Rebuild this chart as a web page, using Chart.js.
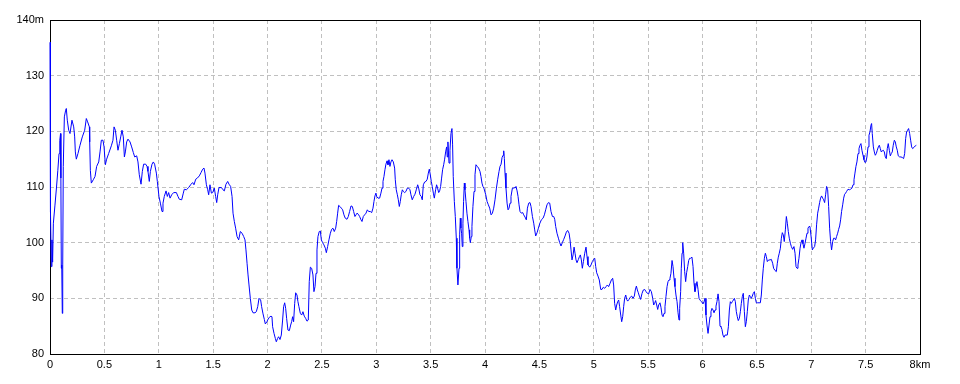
<!DOCTYPE html>
<html>
<head>
<meta charset="utf-8">
<script src="https://cdn.jsdelivr.net/npm/chart.js@4"></script>
<style>
  html, body { margin: 0; padding: 0; background: #fff; }
  #wrap { width: 960px; height: 384px; }
</style>
</head>
<body>
<div id="wrap"><canvas id="profile"></canvas></div>
<script>
// distance along the route (km) and elevation (m)
const distKm = [
  0, 0.002, 0.004, 0.007, 0.012, 0.018, 0.024, 0.031, 0.045, 0.060, 0.072, 0.083, 0.090, 0.097, 0.100, 0.104, 0.108, 0.113, 0.117, 0.122,
  0.132, 0.144, 0.150, 0.159, 0.172, 0.184, 0.202, 0.218, 0.227, 0.233, 0.242, 0.257, 0.276, 0.297, 0.319, 0.334, 0.346, 0.362, 0.365, 0.371,
  0.380, 0.398, 0.414, 0.429, 0.448, 0.460, 0.472, 0.487, 0.497, 0.509, 0.521, 0.539, 0.564, 0.579, 0.589, 0.601, 0.613, 0.625, 0.638, 0.650,
  0.662, 0.674, 0.684, 0.693, 0.705, 0.717, 0.736, 0.751, 0.766, 0.779, 0.797, 0.809, 0.821, 0.837, 0.849, 0.861, 0.880, 0.892, 0.901, 0.913,
  0.923, 0.938, 0.950, 0.962, 0.978, 0.987, 1.002,
  1.015, 1.030, 1.039, 1.051, 1.067, 1.079, 1.091, 1.104, 1.119, 1.137, 1.162, 1.177, 1.189, 1.211, 1.226, 1.235, 1.254, 1.275, 1.297, 1.312,
  1.324, 1.340, 1.355, 1.373, 1.389, 1.404, 1.416, 1.425, 1.438, 1.450, 1.459, 1.471, 1.484, 1.496, 1.511, 1.523, 1.533, 1.542, 1.554, 1.576,
  1.591, 1.603, 1.618, 1.634, 1.646, 1.661, 1.674, 1.683, 1.695, 1.707, 1.720, 1.735, 1.750, 1.766, 1.781, 1.793, 1.802, 1.812, 1.821, 1.830,
  1.842, 1.855, 1.867, 1.885, 1.897, 1.910, 1.922, 1.937, 1.946, 1.959, 1.971, 1.980, 1.995,
  2.001, 2.017, 2.032, 2.041, 2.047, 2.060, 2.072, 2.081, 2.093, 2.102, 2.115, 2.127, 2.139, 2.148, 2.158, 2.167, 2.176, 2.188, 2.201, 2.213,
  2.222, 2.231, 2.240, 2.250, 2.259, 2.271, 2.280, 2.289, 2.302, 2.314, 2.326, 2.338, 2.351, 2.363, 2.375, 2.384, 2.394, 2.406, 2.418, 2.427,
  2.437, 2.446, 2.455, 2.464, 2.476, 2.486, 2.495, 2.507, 2.519, 2.532, 2.541, 2.553, 2.565, 2.578, 2.590, 2.602, 2.614, 2.627, 2.636, 2.645,
  2.654, 2.666, 2.679, 2.691, 2.703, 2.715, 2.731, 2.743, 2.755, 2.768, 2.780, 2.792, 2.804, 2.814, 2.823, 2.835, 2.847, 2.860, 2.869, 2.881,
  2.893, 2.906, 2.918, 2.930, 2.945, 2.958, 2.970, 2.979, 2.988, 2.997,
  3.004, 3.016, 3.031, 3.043, 3.053, 3.062, 3.071, 3.080, 3.089, 3.099, 3.108, 3.117, 3.126, 3.135, 3.145, 3.157, 3.169, 3.175, 3.184, 3.194,
  3.203, 3.212, 3.221, 3.230, 3.240, 3.249, 3.261, 3.273, 3.286, 3.298, 3.310, 3.319, 3.331, 3.344, 3.356, 3.368, 3.381, 3.390, 3.402, 3.414,
  3.423, 3.433, 3.445, 3.457, 3.469, 3.479, 3.488, 3.497, 3.506, 3.515, 3.525, 3.534, 3.546, 3.555, 3.564, 3.574, 3.583, 3.592, 3.601, 3.610,
  3.620, 3.629, 3.638, 3.647, 3.653, 3.659, 3.669, 3.678, 3.687, 3.696, 3.702, 3.708, 3.718, 3.727, 3.736, 3.742, 3.751, 3.761, 3.767, 3.773,
  3.779, 3.785, 3.791, 3.797, 3.803, 3.810, 3.816, 3.825, 3.834, 3.843, 3.853, 3.859, 3.865, 3.874, 3.880, 3.889, 3.899, 3.908, 3.917, 3.929,
  3.941, 3.954, 3.963, 3.972, 3.981, 3.990,
  4.007, 4.019, 4.031, 4.043, 4.056, 4.068, 4.080, 4.092, 4.105, 4.117, 4.129, 4.138, 4.148, 4.157, 4.166, 4.172, 4.178, 4.184, 4.193, 4.203,
  4.212, 4.221, 4.230, 4.239, 4.252, 4.264, 4.276, 4.285, 4.295, 4.304, 4.313, 4.322, 4.334, 4.347, 4.356, 4.368, 4.380, 4.390, 4.402, 4.414,
  4.423, 4.436, 4.448, 4.457, 4.466, 4.479, 4.491, 4.503, 4.518, 4.534, 4.546, 4.558, 4.570, 4.583, 4.595, 4.607, 4.620, 4.632, 4.641, 4.650,
  4.662, 4.675, 4.687, 4.699, 4.711, 4.724, 4.736, 4.748, 4.760, 4.773, 4.782, 4.791, 4.800, 4.810, 4.819, 4.828, 4.837, 4.846, 4.859, 4.868,
  4.877, 4.886, 4.895, 4.905, 4.917, 4.929, 4.938, 4.947, 4.963, 4.975, 4.987, 4.999,
  5.009, 5.018, 5.027, 5.039, 5.051, 5.064, 5.076, 5.088, 5.100, 5.113, 5.125, 5.137, 5.150, 5.162, 5.174, 5.183, 5.192, 5.202, 5.211, 5.220,
  5.229, 5.238, 5.248, 5.257, 5.266, 5.275, 5.284, 5.294, 5.303, 5.312, 5.324, 5.336, 5.349, 5.361, 5.373, 5.382, 5.392, 5.401, 5.410, 5.419,
  5.431, 5.444, 5.456, 5.468, 5.481, 5.493, 5.505, 5.517, 5.530, 5.542, 5.551, 5.560, 5.569, 5.579, 5.588, 5.597, 5.609, 5.618, 5.628, 5.637,
  5.646, 5.655, 5.664, 5.674, 5.683, 5.692, 5.701, 5.710, 5.720, 5.729, 5.738, 5.747, 5.756, 5.766, 5.775, 5.784, 5.790, 5.799, 5.805, 5.812,
  5.818, 5.827, 5.836, 5.845, 5.854, 5.864, 5.873, 5.882, 5.891, 5.903, 5.913, 5.922, 5.931, 5.940, 5.949, 5.959, 5.968, 5.980, 5.992, 6.005,
  6.014, 6.023, 6.032, 6.041, 6.051, 6.060, 6.069, 6.078, 6.087, 6.097, 6.106, 6.115, 6.124, 6.133, 6.143, 6.152, 6.161, 6.170, 6.179, 6.188,
  6.198, 6.207, 6.216, 6.228, 6.238, 6.247, 6.256, 6.265, 6.274, 6.284, 6.293, 6.302, 6.311, 6.320, 6.329, 6.339, 6.348, 6.357, 6.366, 6.375,
  6.385, 6.394, 6.403, 6.412, 6.421, 6.431, 6.440, 6.449, 6.458, 6.467, 6.477, 6.486, 6.495, 6.507, 6.520, 6.532, 6.541, 6.550, 6.559, 6.569,
  6.578, 6.587, 6.596, 6.608, 6.621, 6.633, 6.645, 6.654, 6.667, 6.679, 6.688, 6.697, 6.706, 6.716, 6.725, 6.734, 6.743, 6.752, 6.762, 6.771,
  6.780, 6.789, 6.798, 6.808, 6.817, 6.829, 6.841, 6.851, 6.860, 6.869, 6.878, 6.887, 6.897, 6.906, 6.915, 6.924, 6.933, 6.943, 6.952, 6.961,
  6.970, 6.979, 6.988, 6.998,
  7.010, 7.019, 7.031, 7.040, 7.049, 7.059, 7.068, 7.077, 7.086, 7.095, 7.105, 7.114, 7.123, 7.132, 7.141, 7.151, 7.160, 7.169, 7.178, 7.187,
  7.197, 7.206, 7.215, 7.224, 7.233, 7.243, 7.252, 7.261, 7.270, 7.279, 7.289, 7.298, 7.307, 7.316, 7.325, 7.338, 7.350, 7.362, 7.374, 7.384,
  7.393, 7.402, 7.411, 7.420, 7.430, 7.439, 7.448, 7.457, 7.466, 7.476, 7.485, 7.494, 7.503, 7.512, 7.522, 7.531, 7.540, 7.549, 7.555, 7.561,
  7.571, 7.580, 7.589, 7.598, 7.607, 7.617, 7.626, 7.635, 7.644, 7.653, 7.663, 7.672, 7.681, 7.690, 7.699, 7.708, 7.718, 7.727, 7.736, 7.745,
  7.754, 7.764, 7.773, 7.782, 7.791, 7.800, 7.813, 7.825, 7.837, 7.849, 7.859, 7.868, 7.877, 7.886, 7.895, 7.905, 7.914, 7.923, 7.932, 7.944,
  7.957, 7.966
];
const elevM = [
  136, 105.5, 125.5, 105.5, 95.7, 100.5, 96.5, 103.5, 106.6, 110, 113, 116, 118.4, 119.6, 111.6, 95.4, 96, 87.3, 96, 113.7,
  122.6, 123.8, 124.1, 122, 120.2, 119.6, 122, 120.8, 119, 116.3, 115, 116, 117.5, 119, 120.2, 122.3, 121.7, 120.8, 118.1, 113,
  110.7, 111.3, 111.9, 113.7, 114.5, 116.3, 118.4, 118.4, 117.2, 114, 115, 116, 117.4, 118.4, 120.8, 120.2, 118.4, 116.6, 117.8, 119,
  120.2, 119, 115.4, 116.3, 118.1, 118.6, 118.1, 117.2, 116.2, 115.4, 115.6, 114.5, 112.2, 110.5, 112.8, 114.1, 114.1, 113.7, 112.8, 111,
  112.8, 114.1, 114.5, 114.1, 112.5, 111, 108.3,
  107.1, 105.6, 107.1, 108.3, 109.3, 108.3, 109, 108, 108.6, 109, 109, 108.3, 107.8, 107.7, 108.9, 109.6, 109.5, 109.9, 110.5, 110.8,
  110.4, 111.4, 111.6, 112, 112.6, 113.2, 113.4, 112.5, 110.4, 109.5, 108.6, 110.4, 108.9, 109, 109.8, 108.3, 107.2, 108.6, 109.9, 109.9,
  109.5, 109.3, 110.5, 111, 110.5, 110.1, 108.3, 105.3, 103.8, 102.6, 101.1, 100.5, 102, 101.7, 101.1, 100.5, 98.7, 96.3, 94.2, 92.4,
  90, 87.9, 87.4, 87.4, 87.6, 88.5, 90, 89.7, 88.5, 87.2, 86.2, 85.4, 85.8,
  86.1, 86.6, 86.8, 86.7, 84.9, 83.7, 82.8, 82.2, 82.8, 83.1, 82.6, 83.4, 86.1, 88.5, 89.2, 88.2, 86.4, 84.3, 84.2, 85.2,
  85.8, 86.7, 85.8, 89.1, 91, 90.6, 89.4, 88.5, 87.3, 87, 87.6, 86.8, 86.4, 85.9, 86.1, 93, 95.6, 95.4, 94.2, 91.2,
  92.1, 94.5, 98.7, 101.1, 102, 102.1, 100.5, 100, 99.6, 99, 98.2, 99.3, 100.5, 101.7, 102.4, 102.6, 102, 102.6, 103.8, 105.3,
  106.7, 106.5, 106.2, 105.9, 105, 104.4, 104.2, 104.7, 105.6, 106.6, 106.5, 105.6, 104.7, 105, 105.3, 105.1, 104.7, 104.1, 103.8, 104.7,
  105, 105.3, 105.9, 105.6, 105.6, 105.4, 106.2, 107.4, 108.4, 108.9,
  108.3, 108, 108, 108.9, 109.8, 111, 111.9, 113.1, 114.1, 114.7, 114, 114.9, 113.7, 114.5, 114.9, 114.5, 113.4, 111.3, 109.5, 108.6,
  107.7, 106.5, 107.4, 108.6, 109.5, 109.2, 109, 109.2, 109.8, 109.8, 109.5, 108.6, 107.7, 108.3, 108.7, 109.5, 110.4, 109.8, 108.6, 108.3,
  107.7, 110.4, 110.9, 111, 111.4, 112.5, 113.2, 112.2, 111, 110.1, 108.9, 108, 109.5, 110.4, 109.8, 109, 109.3, 110.1, 111.6, 113.1,
  114, 115, 116.3, 117.2, 115.4, 118.1, 114.3, 116.6, 119.6, 120.5, 117.7, 111.9, 107.4, 104.7, 100.8, 95.4, 92.4, 95.4, 101.4, 104.4,
  102.6, 101.7, 99.3, 103.5, 107.4, 110.7, 109.5, 107.4, 105.3, 103.8, 102.3, 100.8, 100, 101.1, 102.9, 106.5, 109.2, 112.2, 114, 113.7,
  113.4, 112.8, 111.9, 110.7, 110.1, 109.8,
  108.6, 107.4, 106.8, 106.2, 105, 105.3, 106.2, 107.7, 109.8, 111.4, 112.8, 113.7, 114.1, 115.3, 115.7, 116.5, 115.1, 112.5, 109.8, 107.1,
  105.9, 106.2, 107.1, 108.3, 109.8, 109.8, 109.9, 110.1, 109.3, 108.3, 106.8, 105.6, 105.3, 105.4, 105, 104.6, 104.1, 106.2, 107.1, 107.2,
  106.5, 104.7, 103.5, 102.3, 101.2, 101.8, 102.6, 103.4, 104.1, 104.4, 105, 105.9, 106.8, 107.2, 107.1, 105.6, 104.7, 104.7, 104.2, 102.9,
  101.7, 100.8, 100, 99.4, 100, 100.6, 101.2, 101.9, 102.2, 101.7, 100.5, 98.7, 96.9, 97.8, 99.2, 98.1, 96.9, 96.4, 97, 97.5,
  97.8, 96.9, 95.4, 96.6, 98.1, 99.2, 97.5, 96, 95.6, 96, 96.6, 97,
  97.2, 95.7, 94.6, 94, 93.3, 91.6, 91.6, 92, 91.8, 92.1, 92.4, 92.1, 92.7, 93.3, 93.6, 92.4, 89.1, 87.9, 88.8, 89.4,
  89.7, 88.5, 87, 85.8, 86.7, 88.5, 90, 90.6, 89.8, 89.5, 89.8, 90.2, 90.4, 90, 90.4, 91.5, 92.2, 91.5, 91, 90.4,
  89.8, 90.9, 91.5, 91.6, 91.2, 90.9, 90.8, 91.6, 91.2, 90, 88.8, 89.1, 89.6, 88.8, 88, 88.8, 89.2, 88.4, 87, 86.7,
  87.3, 88.5, 90.3, 92.1, 93, 93.3, 93.6, 94.5, 96.8, 95.7, 93.6, 92.1, 90.6, 89.4, 87.4, 86.1, 88.2, 91.2, 95.4, 98.1,
  100, 98.1, 94.8, 93, 94.6, 95.7, 96.8, 97.2, 97.2, 97.4, 95.7, 92.7, 91.2, 92.1, 93, 91.6, 90, 89.6, 89.4, 89,
  89.4, 90, 87, 85.2, 83.7, 85.2, 86.7, 87.6, 88.2, 87.9, 87.4, 87.9, 88.6, 89.4, 90.8, 89.4, 85, 84.9, 84.4, 83.4,
  83, 83.4, 83.4, 83.4, 84.9, 87.9, 89.4, 89.1, 89.4, 89.7, 90, 89.4, 87.6, 86.7, 86, 86.4, 87.6, 89.1, 90.3, 90.9,
  87.6, 84.9, 85.8, 87.6, 89.7, 90.6, 90.3, 90, 90.4, 90.9, 91.2, 90, 89.2, 89.2, 89.2, 89.2, 90.6, 93.3, 95.4, 97.2,
  98.1, 97.5, 96.6, 96.9, 96.9, 97, 96.3, 95.4, 95, 94.8, 96.3, 97.4, 98.1, 99, 100.8, 101.8, 101.4, 100.2, 102.3, 104.7,
  103.5, 102, 100.8, 99.9, 99.3, 98.8, 99.3, 98.1, 95.7, 95.4, 96, 97.2, 99, 100, 100.5, 99.8, 99, 99.9, 100.8, 101.7,
  102.6, 102.9, 102.9, 101.2,
  98.7, 99, 99.3, 100.5, 103.2, 105.3, 106.2, 107.2, 108, 108.4, 108, 107.7, 107.2, 108.6, 110.1, 109.5, 106.5, 102.6, 100.2, 98.7,
  100.2, 100.8, 100.8, 100.5, 101.1, 101.7, 102.4, 103, 104.1, 105.6, 106.8, 108, 108.7, 108.9, 109.2, 109.6, 109.5, 109.6, 109.8, 110.4,
  111.3, 112.5, 113.7, 114.5, 116, 116.9, 117.5, 117.8, 116.6, 115.7, 114.9, 114.4, 114.5, 115.4, 117.2, 119.3, 119.9, 121.1, 121.4, 119.6,
  117.2, 116.3, 115.7, 116, 116.6, 117.2, 117.5, 116.9, 116.3, 116.5, 116.6, 116.3, 115.4, 115.1, 116.9, 117.8, 116.6, 115.6, 116, 116.3,
  117.5, 118.4, 118.1, 117.2, 116.6, 115.6, 115.4, 115.4, 115.3, 115.1, 116, 118.7, 119.9, 120.2, 120.5, 119.6, 118.4, 117.2, 116.9, 117.1,
  117.4, 117.5
];

const xTicks = [0, 0.5, 1, 1.5, 2, 2.5, 3, 3.5, 4, 4.5, 5, 5.5, 6, 6.5, 7, 7.5, 8];
const yTicks = [80, 90, 100, 110, 120, 130, 140];
const xUnit = 'km';
const yUnit = 'm';

// black box round the plot area, drawn under the line
const frame = {
  id: 'frame',
  beforeDatasetsDraw(chart) {
    const a = chart.chartArea;
    const c = chart.ctx;
    c.save();
    c.strokeStyle = '#000';
    c.lineWidth = 1;
    c.strokeRect(Math.round(a.left) + 0.5, Math.round(a.top) + 0.5,
      Math.round(a.right - a.left), Math.round(a.bottom - a.top));
    c.restore();
  }
};

const tickFont = { family: 'Liberation Sans', size: 11 };

new Chart(document.getElementById('profile'), {
  type: 'line',
  data: {
    datasets: [{
      data: distKm.map((d, i) => ({ x: d, y: elevM[i] })),
      borderColor: '#0000ff',
      borderWidth: 1,
      pointRadius: 0,
      tension: 0,
      fill: false,
      clip: 2
    }]
  },
  options: {
    responsive: true,
    maintainAspectRatio: false,
    animation: false,
    layout: { padding: { top: 20, right: 40, left: 0, bottom: 0 } },
    plugins: { legend: { display: false }, tooltip: { enabled: false } },
    scales: {
      x: {
        type: 'linear',
        min: 0,
        max: 8,
        afterBuildTicks: s => { s.ticks = xTicks.map(v => ({ value: v })); },
        afterFit: s => { s.height = 30; },
        ticks: {
          callback: v => v === 8 ? v + xUnit : String(v),
          font: tickFont,
          color: '#000',
          padding: 4,
          maxRotation: 0,
          autoSkip: false
        },
        grid: { color: '#c0c0c0', drawTicks: false },
        border: { display: false, dash: [4, 3] }
      },
      y: {
        min: 80,
        max: 140,
        afterBuildTicks: s => { s.ticks = yTicks.map(v => ({ value: v })); },
        afterFit: s => { s.width = 50; },
        ticks: {
          callback: v => v === 140 ? v + yUnit : String(v),
          font: tickFont,
          color: '#000',
          padding: 6
        },
        grid: { color: '#c0c0c0', drawTicks: false },
        border: { display: false, dash: [4, 3] }
      }
    }
  },
  plugins: [frame]
});
</script>
</body>
</html>
